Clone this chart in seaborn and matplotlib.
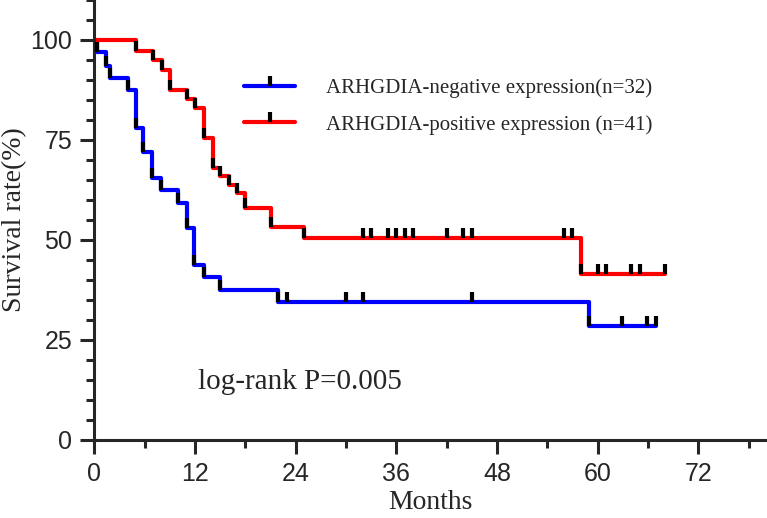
import numpy as np
import pandas as pd
import matplotlib
matplotlib.use('Agg')
import matplotlib.pyplot as plt
from matplotlib.lines import Line2D
from matplotlib.path import Path
from matplotlib.ticker import MultipleLocator
import seaborn as sns

# step curves: (months, survival %)
neg_t = [0, 0.3, 1.4, 1.9, 4.0, 5.0, 5.8, 6.9, 7.9, 10.0, 11.0, 11.9, 13.0, 15.0, 21.9, 59.0, 67.0]
neg_s = [100, 97.0, 93.5, 90.6, 87.5, 78.1, 72.0, 65.6, 62.4, 59.3, 53.0, 43.8, 40.7, 37.5, 34.4, 28.5, 28.5]
neg_cens = [22.9, 30.0, 32.0, 45.0, 62.9, 65.9, 67.0]

pos_t = [0, 5.0, 7.0, 8.0, 9.0, 11.0, 12.0, 13.1, 14.1, 15.0, 16.0, 17.0, 18.0, 21.0, 25.0, 58.0, 68.0]
pos_s = [100, 97.3, 95.0, 92.6, 87.6, 85.3, 82.9, 75.4, 67.9, 66.1, 63.8, 61.7, 57.9, 53.3, 50.6, 41.6, 41.6]
pos_cens = [32, 33, 35, 36, 37, 38, 42, 44, 45, 56, 57, 60, 61, 64, 65, 68]

labels = ['ARHGDIA-negative expression(n=32)', 'ARHGDIA-positive expression (n=41)']
colors = ['#0000ff', '#ff0000']

df = pd.concat([
    pd.DataFrame({'month': neg_t, 'surv': neg_s, 'group': labels[0]}),
    pd.DataFrame({'month': pos_t, 'surv': pos_s, 'group': labels[1]}),
])

sns.set_style('ticks')
plt.rcParams['font.family'] = ['Liberation Serif', 'DejaVu Serif']

fig = plt.figure(figsize=(7.67, 5.18), dpi=100)
ax = fig.add_axes([0.1232, 0.1506, 0.8768, 0.8494])

sns.lineplot(data=df, x='month', y='surv', hue='group', palette=dict(zip(labels, colors)),
             estimator=None, drawstyle='steps-post', lw=3, legend=False, ax=ax)

# tick mark going up from the curve
tick = Path([(0, 0), (0, 1)])

def step_value(times, surv, t):
    i = np.searchsorted(times, t, side='right') - 1
    return np.array(surv)[i]

for times, surv, cens in [(neg_t, neg_s, neg_cens), (pos_t, pos_s, pos_cens)]:
    xs = list(times[1:-1]) + list(cens)
    ys = [step_value(times, surv, t) for t in xs]
    ax.plot(xs, ys, linestyle='none', marker=tick, ms=14.4, mec='black', mew=3, zorder=5)

handles = [Line2D([], [], color=c, lw=3, marker=tick, ms=14.4, mec='black', mew=3) for c in colors]
ax.legend(handles, labels, loc='upper left', bbox_to_anchor=(0.207, 0.845), frameon=False,
          borderpad=0, fontsize=15, handlelength=2.45, handletextpad=1.5, labelspacing=0.8,
          numpoints=1)

ax.text(12.3, 12.75, 'log-rank P=0.005', fontsize=21, va='baseline')

ax.set_xlim(0, 80.2)
ax.set_ylim(0, 110)
ax.xaxis.set_major_locator(MultipleLocator(12))
ax.xaxis.set_minor_locator(MultipleLocator(6))
ax.set_yticks([0, 25, 50, 75, 100])
ax.yaxis.set_minor_locator(MultipleLocator(5))
ax.tick_params(which='major', length=10, width=2.2, pad=6, labelsize=18)
ax.tick_params(which='minor', length=6, width=2.2)
for lab in ax.get_xticklabels() + ax.get_yticklabels():
    lab.set_fontfamily('Liberation Sans')

ax.set_xlabel('Months', fontsize=20, labelpad=3)
ax.set_ylabel('Survival rate(%)', fontsize=20, labelpad=2)

sns.despine(ax=ax)
for s in ['left', 'bottom']:
    ax.spines[s].set_linewidth(2.2)

fig.savefig('out.png', dpi=100)
